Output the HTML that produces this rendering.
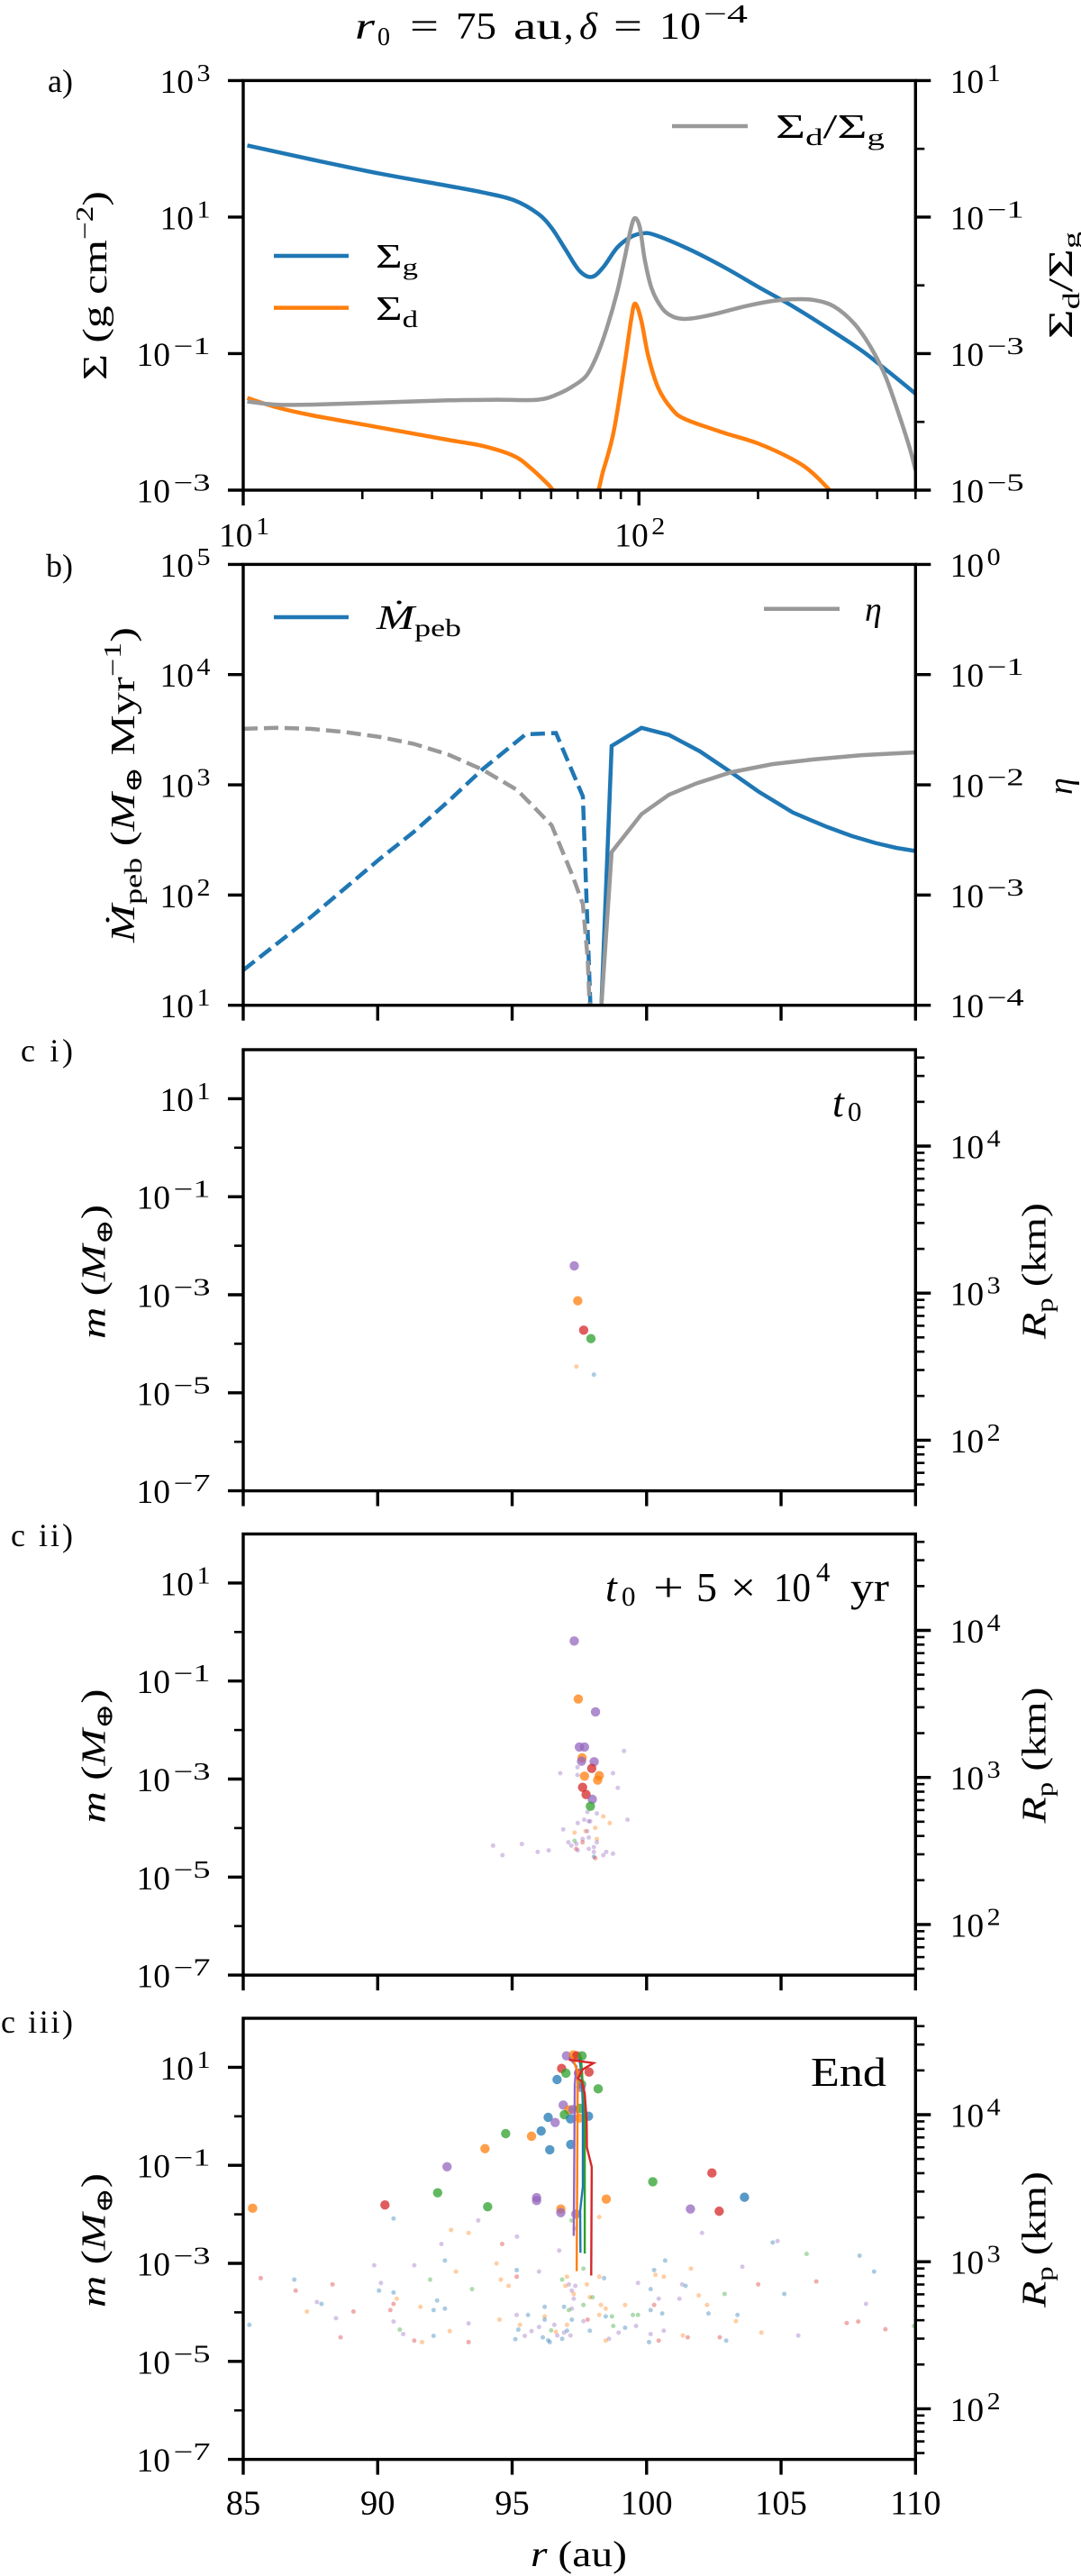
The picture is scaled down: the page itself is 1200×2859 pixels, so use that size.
<!DOCTYPE html>
<html lang="en">
<head>
<meta charset="utf-8">
<title>Disc profiles and planetesimal masses</title>
<style>
html,body{margin:0;padding:0;background:#fff;}
svg{display:block;}
text{font-family:"Liberation Serif","DejaVu Serif",serif;fill:#000;}
.i{font-style:italic;}
</style>
</head>
<body>
<svg id="chart" xmlns="http://www.w3.org/2000/svg" width="1200" height="2859" viewBox="0 0 1200 2859">
<rect x="0" y="0" width="1200" height="2859" fill="#fff"/>
<g>
<text x="394" y="43" font-size="42" class="i" textLength="22" lengthAdjust="spacingAndGlyphs">r</text>
<text x="419" y="50" font-size="28">0</text>
<text x="455" y="43" font-size="42" textLength="32" lengthAdjust="spacingAndGlyphs">=</text>
<text x="506" y="43" font-size="42" textLength="45" lengthAdjust="spacingAndGlyphs">75</text>
<text x="570" y="43" font-size="42" textLength="54" lengthAdjust="spacingAndGlyphs">au</text>
<text x="626" y="43" font-size="42">,</text>
<text x="643" y="43" font-size="42" class="i" textLength="20" lengthAdjust="spacingAndGlyphs">δ</text>
<text x="681" y="43" font-size="42" textLength="32" lengthAdjust="spacingAndGlyphs">=</text>
<text x="732" y="43" font-size="42" textLength="46" lengthAdjust="spacingAndGlyphs">10</text>
<text x="781" y="25" font-size="29" textLength="49" lengthAdjust="spacingAndGlyphs">−4</text>
</g>

<text x="81" y="102" text-anchor="end" font-size="36">a)</text>
<text x="81" y="640" text-anchor="end" font-size="36">b)</text>
<text x="81" y="1178" text-anchor="end" font-size="36" textLength="58">c i)</text>
<text x="81" y="1716" text-anchor="end" font-size="36" textLength="69">c ii)</text>
<text x="81" y="2256" text-anchor="end" font-size="36" textLength="80">c iii)</text>

<g id="layer-a"></g>
<g id="layer-b"></g>
<g id="layer-c1"></g>
<g id="layer-c2"></g>
<g id="layer-c3"></g>

<text transform="translate(118,422) rotate(-90)" font-size="38" textLength="210" lengthAdjust="spacingAndGlyphs">Σ  (g cm<tspan font-size="27" dy="-15">−2</tspan><tspan dy="15">)</tspan></text>
<text transform="translate(1190,376) rotate(-90)" font-size="38" textLength="119" lengthAdjust="spacingAndGlyphs">Σ<tspan font-size="26" dy="8">d</tspan><tspan dy="-8">/Σ</tspan><tspan font-size="26" dy="8">g</tspan></text>
<text transform="translate(149,1046) rotate(-90)" font-size="38" textLength="350" lengthAdjust="spacingAndGlyphs"><tspan class="i">Ṁ</tspan><tspan font-size="27" dy="8">peb</tspan><tspan dy="-8">  (</tspan><tspan class="i">M</tspan><tspan font-size="26" dy="8">⊕</tspan><tspan dy="-8"> Myr</tspan><tspan font-size="27" dy="-15">−1</tspan><tspan dy="15">)</tspan></text>
<text transform="translate(1190,882) rotate(-90)" font-size="38" class="i">η</text>

<text transform="translate(116.5,1486) rotate(-90)" font-size="38" textLength="149" lengthAdjust="spacingAndGlyphs"><tspan class="i">m</tspan><tspan>  (</tspan><tspan class="i">M</tspan><tspan font-size="26" dy="8">⊕</tspan><tspan dy="-8">)</tspan></text>
<text transform="translate(116.5,2023.5) rotate(-90)" font-size="38" textLength="149" lengthAdjust="spacingAndGlyphs"><tspan class="i">m</tspan><tspan>  (</tspan><tspan class="i">M</tspan><tspan font-size="26" dy="8">⊕</tspan><tspan dy="-8">)</tspan></text>
<text transform="translate(116.5,2561) rotate(-90)" font-size="38" textLength="149" lengthAdjust="spacingAndGlyphs"><tspan class="i">m</tspan><tspan>  (</tspan><tspan class="i">M</tspan><tspan font-size="26" dy="8">⊕</tspan><tspan dy="-8">)</tspan></text>

<text transform="translate(1160.5,1486) rotate(-90)" font-size="38" textLength="151" lengthAdjust="spacingAndGlyphs"><tspan class="i">R</tspan><tspan font-size="26" dy="8">p</tspan><tspan dy="-8">  (km)</tspan></text>
<text transform="translate(1160.5,2023.5) rotate(-90)" font-size="38" textLength="151" lengthAdjust="spacingAndGlyphs"><tspan class="i">R</tspan><tspan font-size="26" dy="8">p</tspan><tspan dy="-8">  (km)</tspan></text>
<text transform="translate(1160.5,2561) rotate(-90)" font-size="38" textLength="151" lengthAdjust="spacingAndGlyphs"><tspan class="i">R</tspan><tspan font-size="26" dy="8">p</tspan><tspan dy="-8">  (km)</tspan></text>

<text x="589" y="2848" font-size="40" textLength="107" lengthAdjust="spacingAndGlyphs"><tspan class="i">r</tspan><tspan>  (au)</tspan></text>

<g>
<line x1="304" y1="284" x2="387" y2="284" stroke="#1f77b4" stroke-width="4.5"/>
<text x="417" y="297" font-size="38" textLength="47" lengthAdjust="spacingAndGlyphs">Σ<tspan font-size="26" dy="8">g</tspan></text>
<line x1="304" y1="341.6" x2="387" y2="341.6" stroke="#ff7f0e" stroke-width="4.5"/>
<text x="417" y="355" font-size="38" textLength="47" lengthAdjust="spacingAndGlyphs">Σ<tspan font-size="26" dy="8">d</tspan></text>
</g>
<g>
<line x1="746" y1="140" x2="830" y2="140" stroke="#999" stroke-width="4.5"/>
<text x="861" y="153" font-size="38" textLength="121" lengthAdjust="spacingAndGlyphs">Σ<tspan font-size="26" dy="8">d</tspan><tspan dy="-8">/Σ</tspan><tspan font-size="26" dy="8">g</tspan></text>
</g>
<g>
<line x1="304" y1="685" x2="387" y2="685" stroke="#1f77b4" stroke-width="4.5"/>
<text x="418" y="698" font-size="38" textLength="94" lengthAdjust="spacingAndGlyphs"><tspan class="i">Ṁ</tspan><tspan font-size="27" dy="8">peb</tspan></text>
</g>
<g>
<line x1="848" y1="675.7" x2="932" y2="675.7" stroke="#999" stroke-width="4.5"/>
<text x="960" y="689" font-size="38" class="i">η</text>
</g>

<g>
<text x="924" y="1239" font-size="46" class="i">t</text>
<text x="941" y="1244" font-size="31">0</text>
</g>
<g>
<text x="672" y="1777" font-size="46" class="i">t</text>
<text x="690" y="1782" font-size="31">0</text>
<text x="725" y="1777" font-size="46" textLength="34" lengthAdjust="spacingAndGlyphs">+</text>
<text x="773" y="1777" font-size="46">5</text>
<text x="811" y="1777" font-size="46" textLength="28" lengthAdjust="spacingAndGlyphs">×</text>
<text x="859" y="1777" font-size="46" textLength="41" lengthAdjust="spacingAndGlyphs">10</text>
<text x="906" y="1755" font-size="31">4</text>
<text x="944" y="1777" font-size="46" textLength="43" lengthAdjust="spacingAndGlyphs">yr</text>
</g>
<text x="900" y="2315" font-size="46" textLength="84" lengthAdjust="spacingAndGlyphs">End</text>
</svg>

<script>
/* ===== Panel a data ===== */
const gasR = [10.24,14.8,22.1,33.0,40.3,48.3,55.6,60.2,65.2,70.7,76.0,81.3,88.1,95.5,102.2,109.9,134,164,200,245,299,366,429,500];
const gasSigma = [112,70.3,43.5,28.6,23,17.7,11.2,6.9,3.37,1.64,1.33,1.85,3.57,5.13,5.78,5.45,3.37,1.85,0.953,0.492,0.239,0.110,0.0533,0.0259];
const dustR = [10.24,12.1,14.8,22.1,33,40.3,48.3,53.4,59,64.7,76.6,81.3,86.4,91.8,95.5,97.8,101.4,105.6,112,121.5,131.6,164,200,245,276,318];
const dustSigma = [0.0224,0.01644,0.0126,0.00828,0.00544,0.00444,0.00317,0.00208,0.00121,0.000706,0.00075,0.00196,0.00734,0.0638,0.305,0.542,0.305,0.0916,0.031,0.0151,0.0108,0.00692,0.00483,0.00281,0.00174,0.00075];
const ratioR = [10.24,12.1,14.8,22.1,33,43.7,55.6,62.7,67.9,73.6,78.2,83,88.1,91.8,95.5,97.8,100.6,103.5,107.7,114.4,121.5,129,139.7,157.6,185,217,245,276,311,351,388,421,456,484,500];
const ratioValue = [0.000199,0.000179,0.000179,0.000192,0.000207,0.000211,0.000211,0.000259,0.00033,0.000473,0.000916,0.00239,0.00796,0.0234,0.0692,0.0968,0.0692,0.0234,0.00897,0.00463,0.00351,0.00323,0.00335,0.00387,0.00492,0.00589,0.00626,0.00611,0.00492,0.0027,0.00116,0.000445,0.000119,0.0000403,0.0000196];
const aLeftExps = [3,1,-1,-3];
const aRightExps = [1,-1,-3,-5];
const aRightMinorExps = [0,-2,-4];
const aXMajor = [10,100];
const aXMinor = [20,30,40,50,60,70,80,90,200,300,400,500];
const aXLabelExps = [1,2];

/* ===== Panel b data ===== */
const mdotDashR = [85,87.51,90.07,91.35,92.63,93.91,95.5,96.63,97.63,97.76,97.91];
const mdotDashValue = [20.8,63,212,375,710,1390,2870,2950,785,100,10];
const mdotSolidR = [98.32,98.7,99.81,100.83,101.98,103.14,104.16,105.44,106.08,106.72,107.62,108.51,109.28,110];
const mdotSolidValue = [10,2254,3289,2838,2014,1300,869,561,481,414,344,296.5,268,251];
const etaDashR = [85,86.23,87.51,88.79,90.07,91.35,92.63,93.91,95.19,96.47,97.24,97.63,97.81,97.88];
const etaDashValue = [0.0322,0.0329,0.0322,0.0301,0.0272,0.0235,0.0188,0.0137,0.00897,0.00429,0.00151,0.000826,0.000263,0.0001];
const etaSolidR = [98.32,98.7,99.81,100.83,101.85,103.14,104.67,106.2,108,110];
const etaSolidValue = [0.0001,0.00245,0.00542,0.00813,0.0103,0.013,0.0154,0.017,0.0186,0.0197];
const bLeftExps = [5,4,3,2,1];
const bRightExps = [0,-1,-2,-3,-4];

/* ===== Shared c-panel axis data ===== */
const linearXTicks = [85,90,95,100,105,110];
const massMajorExps = [1,-1,-3,-5,-7];
const massMinorExps = [0,-2,-4,-6];
const radiusMajorExps = [4,3,2];
const radiusMinorDecades = [1,2,3,4];
const radiusMinorMultiples = [2,3,4,5,6,7,8,9];

/* ===== Panel c i data (t0) ===== */
const c1BigR = [97.31,97.44,97.66,97.93];
const c1BigLogMass = [-2.41,-3.123,-3.722,-3.895];
const c1BigSeries = ['p','o','r','g'];
const c1SmallR = [97.39,98.04];
const c1SmallLogMass = [-4.465,-4.63];
const c1SmallSeries = ['o','b'];

/* ===== Panel c ii data (t0 + 5e4 yr) ===== */
const c2BigR = [97.31,97.46,98.10,97.50,97.69,97.60,97.58,98.05,97.96,97.69,98.24,98.18,97.62,97.75,97.98,97.91];
const c2BigLogMass = [-0.184,-1.367,-1.63,-2.347,-2.347,-2.568,-2.635,-2.647,-2.782,-2.941,-2.929,-3.021,-3.168,-3.315,-3.413,-3.554];
const c2BigSeries = ['p','o','p','p','p','o','p','p','r','o','o','o','r','r','p','g'];
const c2SmallR = [99.16,97.43,96.79,97.43,98.75,98.93,97.80,98.15,98.39,98.63,99.29,97.44,97.68,97.85,97.9,98.09,96.90,97.32,97.73,97.79,97.85,98.15,97.62,97.09,97.32,97.39,97.62,98.15,94.29,95.36,97.2,98.04,97.85,97.38,97.44,95.95,96.36,98.04,98.5,98.75,98.39,94.64,98.04,98.09];
const c2SmallLogMass = [-2.427,-2.758,-2.88,-2.917,-2.88,-3.18,-3.671,-3.701,-3.763,-3.897,-3.83,-3.897,-3.83,-3.861,-3.861,-3.995,-4.026,-4.093,-4.063,-4.063,-4.192,-4.222,-4.222,-4.29,-4.259,-4.32,-4.29,-4.29,-4.357,-4.326,-4.357,-4.387,-4.424,-4.424,-4.455,-4.486,-4.455,-4.486,-4.486,-4.522,-4.553,-4.553,-4.584,-4.614];
const c2SmallSeries = ['p','p','p','p','p','p','p','p','o','o','p','p','p','p','p','o','p','o','o','p','p','o','p','p','g','p','r','p','p','p','p','p','p','r','p','p','p','p','p','p','p','p','b','r'];

/* ===== Panel c iii data (End) ===== */
const c3BigR = [85.35,90.27,92.23,92.58,93.99,94.76,94.09,95.72,96.08,95.91,95.91,102.43,100.23,103.64,98.5,101.63,102.7,96.81,96.81,96.4,97.02,97.28,97.4,97.6,96.84,97.0,97.47,97.86,96.67,97.58,97.56,98.2,96.9,97.11,97.26,97.52,96.94,97.17,96.34,97.5,97.84,96.6,97.18,97.37];
const c3BigLogMass = [-1.876,-1.809,-1.561,-1.029,-0.661,-0.353,-1.846,-0.406,-0.3,-1.659,-1.719,-1.156,-1.336,-1.651,-1.689,-1.891,-1.936,-1.891,-1.966,-0.683,1.234,1.252,1.234,1.234,0.977,0.879,0.879,0.903,0.75,0.652,0.591,0.56,0.229,0.131,0.137,0.162,0.033,-0.053,-0.022,-0.034,0.002,-0.126,-0.574,-1.995];
const c3BigSeries = ['o','r','g','p','o','g','g','o','b','p','p','r','g','b','o','p','r','o','p','b','p','o','r','g','r','g','r','r','b','g','p','g','p','o','p','g','g','b','b','o','b','p','b','p'];
const c3SmallR = [90.59,93.74,92.73,93.38,95.18,94.63,92.37,92.5,89.87,91.36,94.42,95.17,92.91,96.0,95.17,85.65,86.9,94.58,91.95,88.32,90.12,94.87,93.51,90.05,86.95,90.59,90.71,92.21,87.74,87.91,90.59,91.59,92.5,92.08,90.47,87.37,89.1,95.17,95.59,88.45,94.53,90.59,93.38,85.23,95.29,96.0,95.23,90.82,92.68,95.72,90.95,95.47,92.08,88.62,95.12,91.36,91.65,93.38,
102.06,104.69,104.87,105.95,107.92,98.24,96.75,100.69,103.56,101.65,97.65,100.28,108.46,100.33,100.64,97.04,98.24,98.42,96.86,106.31,99.68,97.11,96.98,97.35,97.78,104.15,101.32,101.45,100.15,97.22,97.29,102.9,105.12,101.94,97.89,97.99,100.45,101.22,97.29,108.16,100.28,99.2,102.25,98.3,97.65,96.93,96.21,98.48,97.22,97.11,100.15,102.3,100.58,98.24,98.71,98.48,99.49,99.68,103.38,96.21,97.22,97.65,97.81,103.32,96.21,107.87,107.44,96.57,97.04,98.76,99.61,109.94,99.2,108.88,96.45,97.89,97.04,96.63,96.93,100.64,104.27,98.96,100.15,101.35,105.64,97.17,96.68,101.53,96.14,102.72,96.86,98.6,96.34,98.48,96.4,100.45,102.96,100.09,97.21,97.32];
const c3SmallLogMass = [-2.086,-2.124,-2.319,-2.379,-2.454,-2.604,-2.604,-2.942,-3.039,-3.039,-3.002,-3.137,-3.167,-3.167,-3.272,-3.302,-3.332,-3.332,-3.332,-3.429,-3.399,-3.459,-3.527,-3.557,-3.557,-3.594,-3.722,-3.759,-3.789,-3.827,-3.827,-3.887,-3.924,-3.954,-3.954,-3.984,-3.984,-4.052,-4.052,-4.119,-4.149,-4.187,-4.224,-4.254,-4.254,-4.299,-4.352,-4.352,-4.382,-4.382,-4.442,-4.479,-4.479,-4.509,-4.547,-4.577,-4.607,-4.607,
-2.379,-2.574,-2.544,-2.807,-2.844,-2.056,-2.739,-2.942,-3.069,-3.107,-3.107,-3.137,-3.167,-3.234,-3.272,-3.272,-3.272,-3.302,-3.332,-3.369,-3.399,-3.429,-3.459,-3.459,-3.429,-3.429,-3.429,-3.459,-3.527,-3.557,-3.624,-3.624,-3.624,-3.654,-3.692,-3.692,-3.722,-3.722,-3.722,-3.827,-3.849,-3.849,-3.849,-3.849,-3.849,-3.887,-3.887,-3.924,-3.924,-3.954,-3.954,-4.022,-4.022,-4.052,-4.082,-4.082,-4.052,-4.052,-4.052,-4.082,-4.149,-4.179,-4.149,-4.179,-4.149,-4.187,-4.217,-4.254,-4.254,-4.277,-4.277,-4.277,-4.314,-4.344,-4.367,-4.374,-4.374,-4.397,-4.412,-4.374,-4.412,-4.412,-4.442,-4.472,-4.472,-4.472,-4.472,-4.509,-4.509,-4.509,-4.539,-4.539,-4.569,-4.577,-4.607,-4.577,-4.577,-4.607,-2.124,-2.289];
const c3SmallSeries = ['b','p','o','o','p','r','p','b','p','p','o','b','o','p','r','r','b','o','g','r','p','o','g','b','r','b','o','b','p','b','r','o','b','b','r','o','r','p','b','p','o','p','p','b','o','p','b','g','o','p','p','p','b','r','b','r','o','r',
'p','b','p','g','b','o','p','b','p','o','g','b','b','o','o','o','o','b','g','r','p','p','o','p','o','r','p','b','b','p','o','g','b','o','o','g','p','p','p','p','r','o','o','o','g','b','b','o','p','g','b','b','b','o','g','b','g','g','b','o','b','p','r','o','b','r','r','p','o','g','p','g','b','r','g','b','b','o','p','p','o','p','p','o','p','p','p','r','b','r','b','p','b','o','b','r','b','b','g','p'];

const trackRedR = [97.11,98.03,97.63,97.44,97.59,97.70,97.77,97.78,97.96,97.94];
const trackRedLogMass = [1.154,1.087,0.958,0.775,0.713,0.468,-0.083,-0.635,-1.033,-3.249];
const trackOrangeR = [97.22,97.44,97.4];
const trackOrangeLogMass = [1.234,0.897,-3.159];
const trackBlueR = [97.5,97.59,97.63,97.63,97.53,97.54];
const trackBlueLogMass = [1.173,0.836,0.162,-1.431,-1.922,-2.784];
const trackGreenR = [97.56,97.61,97.7,97.7,97.7];
const trackGreenLogMass = [1.203,0.775,0.162,-1.064,-2.799];
const trackPurpleR = [97.11,97.39,97.33,97.29];
const trackPurpleLogMass = [1.203,1.02,0.652,-2.439];

/* ===== Drawing ===== */
const NS = 'http://www.w3.org/2000/svg';
const COLORS = {b:'#1f77b4',o:'#ff7f0e',g:'#2ca02c',r:'#d62728',p:'#9467bd',grey:'#999999'};
const SERIES_NAMES = {b:'blue',o:'orange',g:'green',r:'red',p:'purple'};
const L = 270, R = 1016.3;
const SPINE = 3.4, MAJOR_W = 3.4, MINOR_W = 2.6, MAJOR_LEN = 17, MINOR_LEN = 10, LINE_W = 4.5;
const svg = document.getElementById('chart');
const log10 = Math.log10;

function mk(tag, attrs, parent){
  const e = document.createElementNS(NS, tag);
  for(const k in attrs){ e.setAttribute(k, attrs[k]); }
  parent.appendChild(e);
  return e;
}
function supString(n){ return String(n).replace('-', '\u2212'); }

function tickLine(parent, x1, y1, x2, y2, w, nm){
  const t = mk('line', {x1:x1, y1:y1, x2:x2, y2:y2, stroke:'#000', 'stroke-width':w}, parent);
  
  
  return t;
}
function powerLabel(parent, startX, y, exp, nm){
  const g = mk('g', {}, parent);
  
  
  const base = mk('text', {x:startX, y:y + 13.5, 'font-size':37, textLength:37.5, lengthAdjust:'spacingAndGlyphs'}, g);
  base.textContent = '10';
  
  
  const neg = exp < 0;
  const s = mk('text', {x:startX + 41, y:y + 0.5, 'font-size':27, textLength:neg ? 41 : 15, lengthAdjust:'spacingAndGlyphs'}, g);
  s.textContent = supString(exp);
  
  
}
function leftPower(parent, y, exp, nm){
  const w = exp < 0 ? 41 : 15;
  powerLabel(parent, 233.5 - w - 41, y, exp, nm);
}
function rightPower(parent, y, exp, nm){
  powerLabel(parent, 1054.6, y, exp, nm);
}
function spines(parent, T, B){
  const box = mk('rect', {x:L, y:T, width:R - L, height:B - T, fill:'none', stroke:'#000', 'stroke-width':SPINE}, parent);
  
  
}
function clipFor(id, T, B){
  const defs = mk('defs', {}, svg);
  const cp = mk('clipPath', {id:id}, defs);
  mk('rect', {x:L, y:T, width:R - L, height:B - T}, cp);
}
function straightPath(pts){
  return pts.map((p, i) => (i ? 'L' : 'M') + p[0].toFixed(2) + ' ' + p[1].toFixed(2)).join(' ');
}
function smoothPath(pts){
  let d = 'M' + pts[0][0].toFixed(2) + ' ' + pts[0][1].toFixed(2);
  for(let i = 0; i < pts.length - 1; i++){
    const p0 = pts[Math.max(i - 1, 0)], p1 = pts[i], p2 = pts[i + 1], p3 = pts[Math.min(i + 2, pts.length - 1)];
    const c1x = p1[0] + (p2[0] - p0[0]) / 6, c1y = p1[1] + (p2[1] - p0[1]) / 6;
    const c2x = p2[0] - (p3[0] - p1[0]) / 6, c2y = p2[1] - (p3[1] - p1[1]) / 6;
    d += ' C' + c1x.toFixed(2) + ' ' + c1y.toFixed(2) + ' ' + c2x.toFixed(2) + ' ' + c2y.toFixed(2) + ' ' + p2[0].toFixed(2) + ' ' + p2[1].toFixed(2);
  }
  return d;
}
function toPoints(xs, ys, fx, fy){
  return xs.map((x, i) => [fx(x), fy(ys[i])]);
}

/* ---- panel a ---- */
(function(){
  const T = 89.4, B = 544;
  const layer = document.getElementById('layer-a');
  const xAxis = r => L + (log10(r) - 1) / log10(50) * (R - L);
  const ySigma = v => T + (3 - log10(v)) / 6 * (B - T);
  const yRatio = v => T + (1 - log10(v)) / 6 * (B - T);
  clipFor('clip-a', T, B);
  const plot = mk('g', {'clip-path':'url(#clip-a)'}, layer);
  
  

  const gas = mk('path', {d:smoothPath(toPoints(gasR, gasSigma, xAxis, ySigma)), fill:'none', stroke:COLORS.b, 'stroke-width':LINE_W, 'stroke-linejoin':'round'}, plot);
  
  
  const dust = mk('path', {d:smoothPath(toPoints(dustR, dustSigma, xAxis, ySigma)), fill:'none', stroke:COLORS.o, 'stroke-width':LINE_W, 'stroke-linejoin':'round'}, plot);
  
  
  const ratio = mk('path', {d:smoothPath(toPoints(ratioR, ratioValue, xAxis, yRatio)), fill:'none', stroke:COLORS.grey, 'stroke-width':LINE_W, 'stroke-linejoin':'round'}, plot);
  
  

  aXMajor.forEach((r, i) => {
    tickLine(layer, xAxis(r), B, xAxis(r), B + MAJOR_LEN, MAJOR_W, 'x-tick-major');
    const x0 = xAxis(r) - 27;
    const txt = mk('text', {x:x0, y:B + 62.5, 'font-size':37, textLength:37.5, lengthAdjust:'spacingAndGlyphs'}, layer);
    txt.textContent = '10';
    
    
    const sup = mk('text', {x:x0 + 41, y:B + 49, 'font-size':27, textLength:15, lengthAdjust:'spacingAndGlyphs'}, layer);
    sup.textContent = supString(aXLabelExps[i]);
    
    
  });
  aXMinor.forEach(r => {
    tickLine(layer, xAxis(r), B, xAxis(r), B + MINOR_LEN, MINOR_W, 'x-tick-minor');
  });
  aLeftExps.forEach(e => {
    const y = ySigma(Math.pow(10, e));
    tickLine(layer, L - MAJOR_LEN, y, L, y, MAJOR_W, 'y-tick-left');
    leftPower(layer, y, e, 'y-tick-label-left');
  });
  aRightExps.forEach(e => {
    const y = yRatio(Math.pow(10, e));
    tickLine(layer, R, y, R + MAJOR_LEN, y, MAJOR_W, 'y-tick-right');
    rightPower(layer, y, e, 'y-tick-label-right');
  });
  aRightMinorExps.forEach(e => {
    const y = yRatio(Math.pow(10, e));
    tickLine(layer, R, y, R + MINOR_LEN, y, MINOR_W, 'y-tick-right-minor');
  });
  spines(layer, T, B);
})();

/* shared linear x axis for b, c */
const xLinear = r => L + (r - 85) / 25 * (R - L);

/* ---- panel b ---- */
(function(){
  const T = 626.4, B = 1115.7;
  const layer = document.getElementById('layer-b');
  const yMdot = v => T + (5 - log10(v)) / 4 * (B - T);
  const yEta = v => T + (0 - log10(v)) / 4 * (B - T);
  clipFor('clip-b', T, B);
  const plot = mk('g', {'clip-path':'url(#clip-b)'}, layer);
  
  

  const l1 = mk('path', {d:straightPath(toPoints(mdotDashR, mdotDashValue, xLinear, yMdot)), fill:'none', stroke:COLORS.b, 'stroke-width':LINE_W, 'stroke-dasharray':'16 7'}, plot);
  
  
  const l2 = mk('path', {d:straightPath(toPoints(mdotSolidR, mdotSolidValue, xLinear, yMdot)), fill:'none', stroke:COLORS.b, 'stroke-width':LINE_W}, plot);
  
  
  const l3 = mk('path', {d:straightPath(toPoints(etaDashR, etaDashValue, xLinear, yEta)), fill:'none', stroke:COLORS.grey, 'stroke-width':LINE_W, 'stroke-dasharray':'16 7'}, plot);
  
  
  const l4 = mk('path', {d:straightPath(toPoints(etaSolidR, etaSolidValue, xLinear, yEta)), fill:'none', stroke:COLORS.grey, 'stroke-width':LINE_W}, plot);
  
  

  linearXTicks.forEach(r => {
    tickLine(layer, xLinear(r), B, xLinear(r), B + MAJOR_LEN, MAJOR_W, 'x-tick-major');
  });
  bLeftExps.forEach(e => {
    const y = yMdot(Math.pow(10, e));
    tickLine(layer, L - MAJOR_LEN, y, L, y, MAJOR_W, 'y-tick-left');
    leftPower(layer, y, e, 'y-tick-label-left');
  });
  bRightExps.forEach(e => {
    const y = yEta(Math.pow(10, e));
    tickLine(layer, R, y, R + MAJOR_LEN, y, MAJOR_W, 'y-tick-right');
    rightPower(layer, y, e, 'y-tick-label-right');
  });
  spines(layer, T, B);
})();

/* ---- panels c ---- */
function drawMassPanel(id, T, big, small, tracks, showXLabels){
  const H = 489.6, B = T + H;
  const layer = document.getElementById('layer-' + id);
  const yMass = lm => T + (2 - lm) / 9 * H;
  /* R_p axis: 10^4 km sits 107 px under the top edge, with m proportional to R^3 */
  const yRadius = lr => T + 107 + (4 - lr) * 3 * (H / 9);
  clipFor('clip-' + id, T, B);
  const plot = mk('g', {'clip-path':'url(#clip-' + id + ')'}, layer);
  
  

  small.r.forEach((r, i) => {
    const s = small.series[i];
    const c = mk('circle', {cx:xLinear(r), cy:yMass(small.logMass[i]), r:2.5, fill:COLORS[s], 'fill-opacity':0.38}, plot);
    
    
  });
  big.r.forEach((r, i) => {
    const s = big.series[i];
    const c = mk('circle', {cx:xLinear(r), cy:yMass(big.logMass[i]), r:5.2, fill:COLORS[s], 'fill-opacity':0.75}, plot);
    
    
  });
  tracks.forEach(t => {
    const p = mk('path', {d:straightPath(toPoints(t.r, t.logMass, xLinear, yMass)), fill:'none', stroke:COLORS[t.key], 'stroke-width':2.4}, plot);
    
    
  });

  linearXTicks.forEach(r => {
    tickLine(layer, xLinear(r), B, xLinear(r), B + MAJOR_LEN, MAJOR_W, 'x-tick-major');
    if(showXLabels){
      const txt = mk('text', {x:xLinear(r), y:B + 61, 'font-size':38.5, 'text-anchor':'middle'}, layer);
      txt.textContent = String(r);
      
      
    }
  });
  massMajorExps.forEach(e => {
    const y = yMass(e);
    tickLine(layer, L - MAJOR_LEN, y, L, y, MAJOR_W, 'y-tick-mass');
    leftPower(layer, y, e, 'y-tick-label-mass');
  });
  massMinorExps.forEach(e => {
    const y = yMass(e);
    tickLine(layer, L - MINOR_LEN, y, L, y, MINOR_W, 'y-tick-mass-minor');
  });
  radiusMajorExps.forEach(e => {
    const y = yRadius(e);
    tickLine(layer, R, y, R + MAJOR_LEN, y, MAJOR_W, 'y-tick-radius');
    rightPower(layer, y, e, 'y-tick-label-radius');
  });
  radiusMinorDecades.forEach(d => {
    radiusMinorMultiples.forEach(m => {
      const y = yRadius(d + log10(m));
      if(y > T + 1 && y < B - 1){
        tickLine(layer, R, y, R + MINOR_LEN, y, MINOR_W, 'y-tick-radius-minor');
      }
    });
  });
  spines(layer, T, B);
}

drawMassPanel('c1', 1165,
  {r:c1BigR, logMass:c1BigLogMass, series:c1BigSeries},
  {r:c1SmallR, logMass:c1SmallLogMass, series:c1SmallSeries}, [], false);
drawMassPanel('c2', 1702.5,
  {r:c2BigR, logMass:c2BigLogMass, series:c2BigSeries},
  {r:c2SmallR, logMass:c2SmallLogMass, series:c2SmallSeries}, [], false);
drawMassPanel('c3', 2240,
  {r:c3BigR, logMass:c3BigLogMass, series:c3BigSeries},
  {r:c3SmallR, logMass:c3SmallLogMass, series:c3SmallSeries},
  [
    {key:'p', r:trackPurpleR, logMass:trackPurpleLogMass},
    {key:'o', r:trackOrangeR, logMass:trackOrangeLogMass},
    {key:'b', r:trackBlueR, logMass:trackBlueLogMass},
    {key:'g', r:trackGreenR, logMass:trackGreenLogMass},
    {key:'r', r:trackRedR, logMass:trackRedLogMass}
  ], true);
</script>
</body>
</html>
